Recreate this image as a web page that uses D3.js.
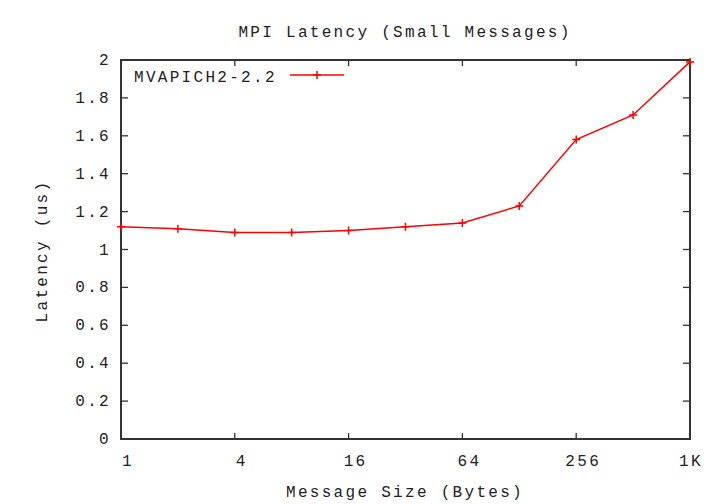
<!DOCTYPE html>
<html><head><meta charset="utf-8">
<script src="https://cdn.jsdelivr.net/npm/d3@7"></script>
<style>
body{margin:0;background:#fff}
text{font-family:"Liberation Mono","DejaVu Sans Mono",monospace;font-size:16px;letter-spacing:2.3px;fill:#222}
</style></head><body>
<svg id="c" width="720" height="504"></svg>
<script>
const sizes = [1,2,4,8,16,32,64,128,256,512,1024];
const latency = [1.12,1.11,1.09,1.09,1.10,1.12,1.14,1.23,1.58,1.71,1.99];
const xTicks = [1,4,16,64,256,1024];
const xTickLabels = ["1","4","16","64","256","1K"];
const yTicks = [0,0.2,0.4,0.6,0.8,1,1.2,1.4,1.6,1.8,2];
const seriesName = "MVAPICH2-2.2";

const svg = d3.select("#c");
const L=121,R=690,T=60,B=439;
const x = d3.scaleLog().base(2).domain([1,1024]).range([L,R]);
const y = d3.scaleLinear().domain([0,2]).range([B,T]);
const tickCol="#333";

// ticks
yTicks.forEach(v=>{
  svg.append("line").attr("x1",L).attr("x2",L+7).attr("y1",y(v)).attr("y2",y(v)).attr("stroke",tickCol).attr("stroke-width",1.3);
  svg.append("line").attr("x1",R).attr("x2",R-7).attr("y1",y(v)).attr("y2",y(v)).attr("stroke",tickCol).attr("stroke-width",1.3);
  svg.append("text").attr("x",111).attr("y",y(v)+5).attr("text-anchor","end").text(d3.format("")(+v.toFixed(1)));
});
xTicks.forEach((v,i)=>{
  svg.append("line").attr("x1",x(v)).attr("x2",x(v)).attr("y1",B).attr("y2",B-6).attr("stroke",tickCol).attr("stroke-width",1.3);
  svg.append("line").attr("x1",x(v)).attr("x2",x(v)).attr("y1",T).attr("y2",T+6).attr("stroke",tickCol).attr("stroke-width",1.3);
  const dx = i===xTicks.length-1 ? 1 : 7;
  svg.append("text").attr("x",x(v)+dx).attr("y",466).attr("text-anchor","middle").text(xTickLabels[i]);
});

// border
svg.append("rect").attr("x",L).attr("y",T).attr("width",R-L).attr("height",B-T)
  .attr("fill","none").attr("stroke",tickCol).attr("stroke-width",2);

// line
const line = d3.line().x((d,i)=>x(sizes[i])).y(d=>y(d));
svg.append("path").datum(latency).attr("d",line).attr("fill","none").attr("stroke","#ff0000").attr("stroke-width",1.5);
const plus = (cx,cy)=>svg.append("path").attr("d",`M${cx-4},${cy}H${cx+4}M${cx},${cy-4}V${cy+4}`).attr("stroke","#ff0000").attr("stroke-width",1.5);
latency.forEach((v,i)=>plus(x(sizes[i]),y(v)));

// legend
svg.append("text").attr("x",134).attr("y",82).text(seriesName);
svg.append("line").attr("x1",290).attr("x2",344).attr("y1",75).attr("y2",75).attr("stroke","#ff0000").attr("stroke-width",1.5);
plus(317,75);

// titles
svg.append("text").attr("x",405).attr("y",37).attr("text-anchor","middle").text("MPI Latency (Small Messages)");
svg.append("text").attr("x",405).attr("y",497).attr("text-anchor","middle").text("Message Size (Bytes)");
svg.append("text").attr("transform","translate(47,251) rotate(-90)").attr("text-anchor","middle").text("Latency (us)");
</script></body></html>
